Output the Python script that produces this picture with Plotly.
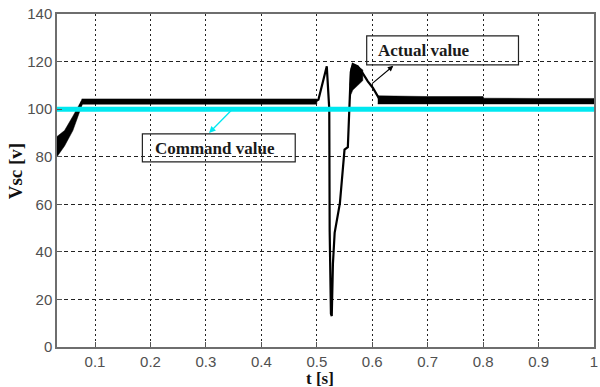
import plotly.graph_objects as go

# Time axis ticks
x_ticks = [0.1, 0.2, 0.3, 0.4, 0.5, 0.6, 0.7, 0.8, 0.9, 1.0]
x_tick_text = ["0.1", "0.2", "0.3", "0.4", "0.5", "0.6", "0.7", "0.8", "0.9", "1"]
y_ticks = [0, 20, 40, 60, 80, 100, 120, 140]

# Command (reference) DC-link voltage
t_cmd = [0.0314, 1.0]
v_cmd = [100, 100]

# Measured DC-link voltage: main trajectory
t_act = [0.0314, 0.045, 0.060, 0.070, 0.076, 0.20, 0.35, 0.497, 0.503, 0.510,
         0.518, 0.5225, 0.5232, 0.5255, 0.527, 0.5291, 0.5322, 0.5417, 0.547,
         0.550, 0.556, 0.5595, 0.5613, 0.5649, 0.574, 0.583, 0.592, 0.601,
         0.610, 0.614, 0.70, 0.80, 0.90, 1.0]
v_act = [84, 87.5, 94, 99.5, 103, 103.2, 103.2, 103.2, 104, 110,
         118, 100, 49, 14, 13, 35, 48, 60.5, 73.5,
         83, 84, 107, 115.5, 119, 118, 115, 111.7, 109,
         105, 103.8, 103.8, 103.6, 103.3, 103.3]

# Ripple envelopes of the measured voltage (upper / lower bounds)
t_ramp = [0.0314, 0.045, 0.060, 0.070, 0.077]
v_ramp_hi = [88.5, 91, 97, 101.5, 104.2]
v_ramp_lo = [80, 84.5, 91, 97.5, 102]

t_flat1 = [0.076, 0.30, 0.50]
v_flat1_hi = [104.3, 104.3, 104.3]
v_flat1_lo = [102.1, 102.1, 102.1]

t_peak = [0.5595, 0.5613, 0.5649, 0.574, 0.583]
v_peak_hi = [110, 117, 119, 118, 116.5]
v_peak_lo = [104, 106, 108, 110, 112]

t_flat2 = [0.610, 0.70, 0.80, 0.801, 0.90, 1.0]
v_flat2_hi = [105.6, 105.3, 105.3, 104.6, 104.5, 104.5]
v_flat2_lo = [102.2, 102.2, 102.2, 102.2, 102.2, 102.2]

fig = go.Figure()


def band(t, hi, lo):
    fig.add_trace(go.Scatter(
        x=list(t) + list(t)[::-1], y=list(hi) + list(lo)[::-1],
        fill="toself", fillcolor="black", mode="lines",
        line=dict(color="black", width=0.5), hoverinfo="skip", showlegend=False))


band(t_ramp, v_ramp_hi, v_ramp_lo)
band(t_flat1, v_flat1_hi, v_flat1_lo)
band(t_peak, v_peak_hi, v_peak_lo)
band(t_flat2, v_flat2_hi, v_flat2_lo)

fig.add_trace(go.Scatter(x=t_act, y=v_act, mode="lines",
                         line=dict(color="black", width=2.2),
                         name="Actual value", showlegend=False))
fig.add_trace(go.Scatter(x=t_cmd, y=v_cmd, mode="lines",
                         line=dict(color="#00e8f0", width=5),
                         name="Command value", showlegend=False))

label_font = dict(family="Liberation Serif, Times New Roman, serif", size=17, color="#1a1a1a")

# Label boxes
fig.add_shape(type="rect", xref="x", yref="y", x0=0.1854, x1=0.4611, y0=77.8, y1=89.6,
              line=dict(color="#222", width=1.2), fillcolor="rgba(0,0,0,0)")
fig.add_shape(type="rect", xref="x", yref="y", x0=0.590, x1=0.8638, y0=118.6, y1=130.8,
              line=dict(color="#222", width=1.2), fillcolor="rgba(0,0,0,0)")

fig.add_annotation(x=0.317, y=83.4, xref="x", yref="y", text="<b>Command value</b>",
                   showarrow=False, font=label_font)
fig.add_annotation(x=0.693, y=124.8, xref="x", yref="y", text="<b>Actual value</b>",
                   showarrow=False, font=label_font)

# Arrows pointing from the traces to the labels
fig.add_annotation(x=0.3057, y=90.0, ax=0.350, ay=100.5, xref="x", yref="y",
                   axref="x", ayref="y", text="", showarrow=True, arrowhead=2,
                   arrowsize=1, arrowwidth=1.3, arrowcolor="#00e8f0", standoff=0)
fig.add_annotation(x=0.638, y=118.2, ax=0.597, ay=110.2, xref="x", yref="y",
                   axref="x", ayref="y", text="", showarrow=True, arrowhead=2,
                   arrowsize=1, arrowwidth=1.1, arrowcolor="black", standoff=0)

# Axis titles (positions given in page pixels, converted below)
title_font = dict(family="Liberation Serif, Times New Roman, serif", size=19, color="#111")
fig.add_annotation(x=15, y=171, xref="paper", yref="paper", text="<b>Vsc [v]</b>",
                   showarrow=False, textangle=-90, font=title_font,
                   xanchor="center", yanchor="middle")
fig.add_annotation(x=322, y=378.5, xref="paper", yref="paper", text="<b>t [s]</b>",
                   showarrow=False, font=dict(title_font, size=17),
                   xanchor="center", yanchor="middle")

tick_font = dict(family="Liberation Sans, Arial, sans-serif", size=15, color="#505050")

fig.update_layout(
    width=600, height=387,
    margin=dict(l=57, r=2, t=14, b=40),
    paper_bgcolor="white", plot_bgcolor="white",
    xaxis=dict(range=[0.0314, 1.0], tickvals=x_ticks, ticktext=x_tick_text,
               showline=True, linecolor="#6e6e6e", linewidth=1.5, mirror=True,
               ticks="inside", ticklen=5, tickcolor="#555", tickwidth=1.2,
               showgrid=True, gridcolor="#222", gridwidth=1, griddash="2px,3px",
               zeroline=False, tickfont=tick_font, ticklabeloverflow="allow"),
    yaxis=dict(range=[0, 140], tickvals=y_ticks,
               showline=True, linecolor="#6e6e6e", linewidth=1.5, mirror=True,
               ticks="inside", ticklen=5, tickcolor="#555", tickwidth=1.2,
               showgrid=True, gridcolor="#222", gridwidth=1, griddash="4px,3px",
               zeroline=False, tickfont=tick_font),
)

# Convert the page-pixel positions of the axis titles to paper fractions
pw = 600 - 57 - 2
ph = 387 - 14 - 40
for a in fig.layout.annotations:
    if a.xref == "paper":
        a.x = (a.x - 57) / pw
        a.y = (387 - 40 - a.y) / ph

fig.write_html("out.html")
